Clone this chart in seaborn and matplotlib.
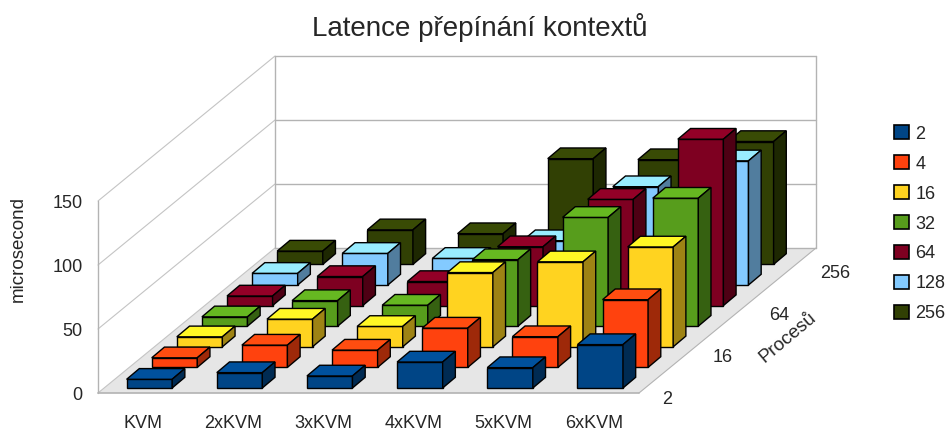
# -*- coding: utf-8 -*-
import matplotlib
matplotlib.use("Agg")
import pandas as pd
import seaborn as sns
import matplotlib.pyplot as plt
from matplotlib.colors import to_rgb
from matplotlib.patches import Patch, Polygon

# values (microseconds), one list per process count
categories = ["KVM", "2xKVM", "3xKVM", "4xKVM", "5xKVM", "6xKVM"]
procs = ["2", "4", "16", "32", "64", "128", "256"]
depth_labels = {0: "2", 2: "16", 4: "64", 6: "256"}
lat_2 = [6.8, 12.0, 9.4, 20.3, 15.9, 33.9]
lat_4 = [7.5, 17.4, 13.5, 30.7, 24.0, 52.9]
lat_16 = [7.8, 21.6, 15.9, 58.0, 66.4, 78.0]
lat_32 = [7.3, 20.0, 16.4, 52.0, 85.0, 100.0]
lat_64 = [7.5, 22.7, 18.8, 46.0, 83.0, 130.0]
lat_128 = [9.1, 24.7, 20.8, 34.6, 76.8, 97.0]
lat_256 = [10.4, 27.0, 24.0, 82.6, 81.8, 96.0]
colors = ["#004586", "#ff420e", "#ffd320", "#579d1c", "#7e0021", "#83caff", "#314004"]
value_ticks = [0, 50, 100, 150]

rows = [lat_2, lat_4, lat_16, lat_32, lat_64, lat_128, lat_256]
df = pd.DataFrame(
    [(c, p, v) for p, vals in zip(procs, rows) for c, v in zip(categories, vals)],
    columns=["vm", "proc", "latency"],
)

sns.set_theme(style="white")
plt.rcParams["font.family"] = ["Liberation Sans", "DejaVu Sans"]

W, H = 947, 430
TXT = "#262626"
fig = plt.figure(figsize=(W / 100, H / 100), dpi=100)
ax = fig.add_axes([98 / W, (H - 393) / H, 541 / W, 192 / H])

# pixel scale of the oblique projection, expressed in data units
px_x = 6 / 541
px_y = 150 / 192
row_dx, row_dy = 25.1 * px_x, 20.6 * px_y
bar_dx, bar_dy = 12.7 * px_x, 10.7 * px_y
lead_dx, lead_dy = 6.3 * px_x, 5.0 * px_y
n_rows = len(procs)
back_dx, back_dy = 177 * px_x, 145 * px_y


def shade(col, f):
    return tuple(min(1, c * f) for c in to_rgb(col))


# back to front so the nearer rows cover the farther ones
for r in reversed(range(n_rows)):
    n_before = len(ax.patches)
    sns.barplot(
        data=df[df["proc"] == procs[r]], x="vm", y="latency", order=categories,
        color=colors[r], saturation=1, width=0.505, edgecolor="black",
        linewidth=1.0, ax=ax, zorder=10 + n_rows - r,
    )
    for bar in list(ax.patches[n_before:]):
        x0 = bar.get_x() + lead_dx + r * row_dx
        y0 = bar.get_y() + lead_dy + r * row_dy
        w, h = bar.get_width(), bar.get_height()
        bar.set_x(x0)
        bar.set_y(y0)
        bar.set_clip_on(False)
        top = [(x0, y0 + h), (x0 + w, y0 + h),
               (x0 + w + bar_dx, y0 + h + bar_dy), (x0 + bar_dx, y0 + h + bar_dy)]
        side = [(x0 + w, y0), (x0 + w + bar_dx, y0 + bar_dy),
                (x0 + w + bar_dx, y0 + h + bar_dy), (x0 + w, y0 + h)]
        ax.add_patch(Polygon(top, fc=shade(colors[r], 1.17), ec="black", lw=1.0,
                             zorder=10 + n_rows - r, clip_on=False))
        ax.add_patch(Polygon(side, fc=shade(colors[r], 0.62), ec="black", lw=1.0,
                             zorder=10 + n_rows - r, clip_on=False))

ax.set_xlim(-0.5, 5.5)
ax.set_ylim(0, 150)
xl, xr = -0.5, 5.5
wall_col = "#b3b3b3"

# floor and walls
ax.add_patch(Polygon(
    [(xl, 0), (xr, 0), (xr + back_dx, back_dy), (xl + back_dx, back_dy)],
    fc="#e6e6e6", ec="none", zorder=1, clip_on=False))
for v in value_ticks:
    ax.plot([xl, xl + back_dx], [v, v + back_dy], color="#c4c4c4", lw=0.8,
            zorder=2, clip_on=False)
    ax.plot([xl + back_dx, xr + back_dx], [v + back_dy] * 2, color=wall_col, lw=1.0,
            zorder=2, clip_on=False)
ax.plot([xl, xr], [0, 0], color=wall_col, lw=1.2, zorder=2, clip_on=False)
ax.plot([xr, xr + back_dx], [0, back_dy], color=wall_col, lw=0.8, zorder=2, clip_on=False)
ax.plot([xl, xl], [0, 150], color=wall_col, lw=1.0, zorder=2, clip_on=False)
for xv in (xl + back_dx, xr + back_dx):
    ax.plot([xv, xv], [back_dy, 150 + back_dy], color=wall_col, lw=1.0, zorder=2,
            clip_on=False)

# axes text
sns.despine(ax=ax, left=True, bottom=True)
ax.set_xlabel("")
ax.set_ylabel("")
ax.set_yticks(value_ticks)
ax.tick_params(axis="both", length=0, labelsize=13, colors=TXT)
ax.tick_params(axis="x", pad=15.5)
ax.tick_params(axis="y", pad=11)
ax.patch.set_alpha(0)
fig.text(18 / W, 1 - 249 / H, "microsecond", rotation=90, ha="center", va="center",
         fontsize=13.5, color=TXT)

for r, lab in depth_labels.items():
    ax.text(xr + (28 + r * 28) * px_x, (-6 + r * 21) * px_y, lab,
            fontsize=13, ha="center", va="center", color=TXT, clip_on=False)
fig.text(788 / W, 1 - 338 / H, "Procesů", rotation=40, ha="center", va="center",
         fontsize=13.5, color=TXT, rotation_mode="anchor")

fig.text(480 / W, 1 - 28 / H, "Latence přepínání kontextů", ha="center", va="center",
         fontsize=20, color=TXT)

handles = [Patch(fc=c, ec="black", lw=1.2) for c in colors]
fig.legend(handles, procs, loc="upper left", bbox_to_anchor=(887 / W, 1 - 118 / H),
           frameon=False, fontsize=13, handlelength=0.83, handleheight=0.83,
           labelspacing=0.70, handletextpad=0.35, borderpad=0.4, borderaxespad=0,
           labelcolor=TXT)

fig.savefig("out.png", dpi=100)
